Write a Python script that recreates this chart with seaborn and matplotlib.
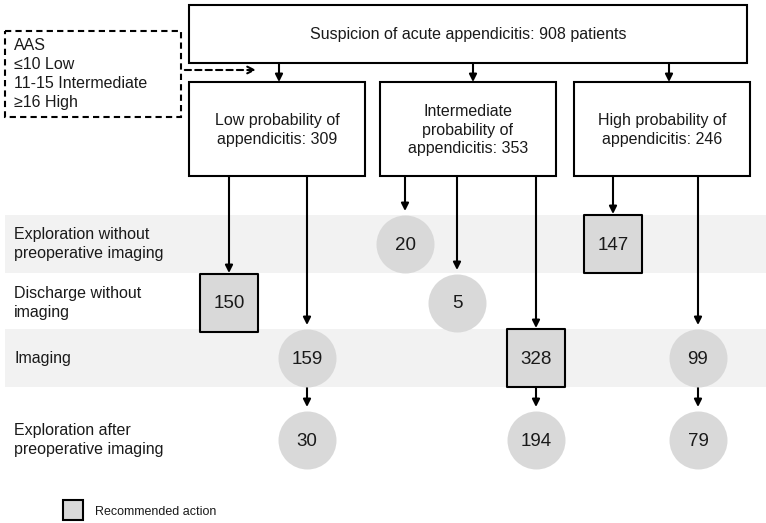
import pandas as pd
import matplotlib.pyplot as plt
import seaborn as sns
from matplotlib.patches import Rectangle

# Plot Style
sns.set_style("white")
plt.rcParams["font.family"] = ["Liberation Sans", "DejaVu Sans"]

# =========================================================
# Data
# =========================================================

total_patients = 908
group_names = ["Low probability of\nappendicitis",
               "Intermediate\nprobability of\nappendicitis",
               "High probability of\nappendicitis"]
group_counts = [309, 353, 246]

step_labels = ["Exploration without\npreoperative imaging",
               "Discharge without\nimaging",
               "Imaging",
               "Exploration after\npreoperative imaging"]

aas_lines = ["AAS", "≤10 Low", "11-15 Intermediate", "≥16 High"]

node_group = [0, 0, 0, 1, 1, 1, 1, 2, 2, 2]
node_step = [1, 2, 3, 0, 1, 2, 3, 0, 2, 3]
node_count = [150, 159, 30, 20, 5, 328, 194, 147, 99, 79]
node_recommended = [True, False, False, False, False, True, False, True, False, False]

# =========================================================
# Layout (pixel coordinates)
# =========================================================

group_left = [189, 380, 574]
group_width = 176
group_top, group_bottom = 82, 176
top_box = (189, 5, 558, 58)
top_arrow_x = [279, 473, 669]
lane_x = [229, 307, 307, 405, 457, 536, 536, 613, 698, 698]
step_y = [244, 303, 358, 440]
node_px = 58
band_steps = [0, 2]
text_color = "#1a1a1a"

df = pd.DataFrame({
    "group": node_group,
    "step": node_step,
    "count": node_count,
    "recommended": node_recommended,
    "x": lane_x,
})
df["y"] = [step_y[s] for s in df["step"]]

fig = plt.figure(figsize=(7.66, 5.23), dpi=100)
ax = fig.add_axes([0, 0, 1, 1])

# Background bands
for s in band_steps:
    ax.add_patch(Rectangle((5, step_y[s] - 29), 761, 58, facecolor="#f2f2f2",
                           edgecolor="none", zorder=0))

# Step labels
for s, label in enumerate(step_labels):
    ax.text(14, step_y[s], label, fontsize=11.5, va="center", ha="left",
            color=text_color, linespacing=1.26)

# Top box
x0, y0, w, h = top_box
ax.add_patch(Rectangle((x0, y0), w, h, facecolor="white", edgecolor="black", lw=1.5))
ax.text(x0 + w / 2, y0 + h / 2 + 1,
        f"Suspicion of acute appendicitis: {total_patients} patients",
        fontsize=11.5, ha="center", va="center", color=text_color)

# AAS dashed box
ax.add_patch(Rectangle((5, 31), 176, 86, facecolor="white", edgecolor="black",
                       lw=1.5, linestyle=(0, (3, 2))))
ax.text(14, 74, "\n".join(aas_lines), fontsize=11.5, ha="left", va="center",
        color=text_color, linespacing=1.34)
ax.annotate("", xy=(259, 70), xytext=(182, 70),
            arrowprops=dict(arrowstyle="->", lw=1.5, linestyle=(0, (3, 2)),
                            mutation_scale=12, color="black"))

# Group boxes
arrow_kw = dict(arrowstyle="-|>", lw=1.5, color="black", mutation_scale=11,
                shrinkA=0, shrinkB=0)
for i, (name, n) in enumerate(zip(group_names, group_counts)):
    left = group_left[i]
    ax.add_patch(Rectangle((left, group_top), group_width, group_bottom - group_top,
                           facecolor="white", edgecolor="black", lw=1.5))
    ax.text(left + group_width / 2, 130, f"{name}: {n}", fontsize=11.5,
            ha="center", va="center", color=text_color, linespacing=1.26)
    ax.annotate("", xy=(top_arrow_x[i], group_top), xytext=(top_arrow_x[i], y0 + h),
                arrowprops=arrow_kw)

# Arrows from groups to first node in each lane, and between steps
for i, row in df.iterrows():
    half = node_px / 2
    prev = df[(df["group"] == row["group"]) & (df["x"] == row["x"]) & (df["step"] < row["step"])]
    start = group_bottom if prev.empty else step_y[prev["step"].max()] + half
    end = row["y"] - half - (1 if row["recommended"] else 4)
    ax.annotate("", xy=(row["x"], end), xytext=(row["x"], start), arrowprops=arrow_kw)

# Nodes
size = (node_px * 72 / 100) ** 2
sns.scatterplot(data=df[~df["recommended"]], x="x", y="y", marker="o", s=size,
                color="#d9d9d9", linewidth=0, ax=ax, zorder=3)
sns.scatterplot(data=df[df["recommended"]], x="x", y="y", marker="s", s=(41.5) ** 2,
                color="#d9d9d9", edgecolor="black", linewidth=1.5, ax=ax, zorder=3)
for _, row in df.iterrows():
    ax.text(row["x"], row["y"] + 1, str(row["count"]), fontsize=13.5, ha="center",
            va="center", color=text_color, zorder=4)

ax.set_xlim(0, 766)
ax.set_ylim(523, 0)
ax.axis("off")

# Legend
ax.add_patch(Rectangle((63, 500), 20, 20, facecolor="#d9d9d9", edgecolor="black", lw=1.5))
ax.text(95, 512, "Recommended action", fontsize=9, ha="left", va="center",
        color=text_color)

plt.savefig("out.png", dpi=100)
